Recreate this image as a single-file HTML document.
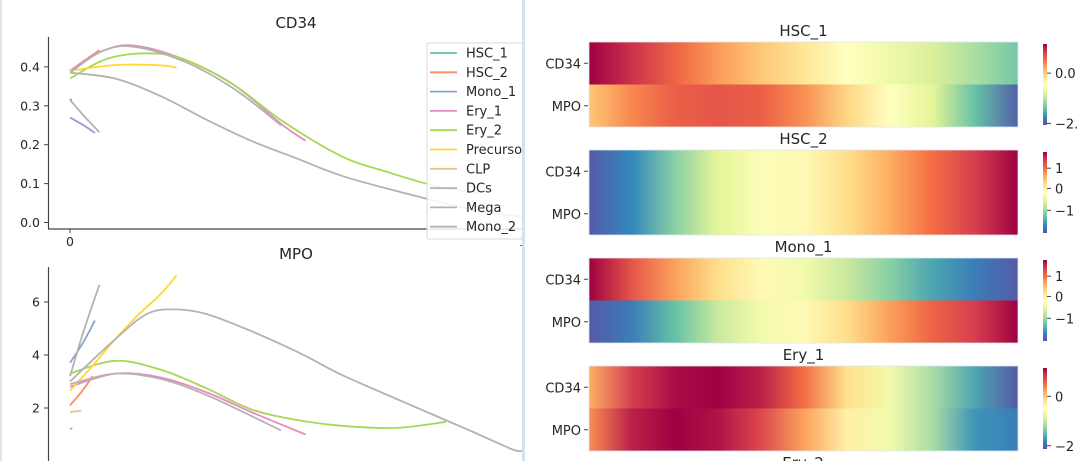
<!DOCTYPE html>
<html><head><meta charset="utf-8">
<style>
html,body{margin:0;padding:0;background:#fff;}
body{width:1080px;height:461px;overflow:hidden;position:relative;font-family:"Liberation Sans","DejaVu Sans",sans-serif;}
svg{position:absolute;left:0;top:0;}
text{font-family:"DejaVu Sans","Liberation Sans",sans-serif;fill:#262626;}
</style></head>
<body>
<svg id="chart" width="1080" height="461" viewBox="0 0 1080 461"></svg>
<script>
// ---------- data ----------
const seriesNames = ["HSC_1","HSC_2","Mono_1","Ery_1","Ery_2","Precursor","CLP","DCs","Mega","Mono_2"];
const seriesColors = ["#66c2a5","#fc8d62","#8da0cb","#e78ac3","#a6d854","#ffd92f","#e5c494","#b3b3b3","#b3b3b3","#b3b3b3"];
// CD34 [t, value] points
const cd34HSC_1 = [[0,0.318],[0.004,0.314]];
const cd34HSC_2 = [[0,0.39],[0.03,0.415],[0.065,0.443]];
const cd34Mono_1 = [[0,0.27],[0.03,0.25],[0.055,0.23]];
const cd34Ery_1 = [[0,0.39],[0.07,0.44],[0.14,0.455],[0.25,0.42],[0.36,0.355],[0.47,0.25],[0.52,0.21]];
const cd34Ery_2 = [[0,0.37],[0.08,0.42],[0.17,0.435],[0.25,0.42],[0.36,0.355],[0.47,0.26],[0.6,0.17],[0.7,0.13],[0.8,0.096],[0.9,0.075]];
const cd34Precursor = [[0,0.39],[0.1,0.405],[0.2,0.404],[0.235,0.398]];
const cd34CLP = [];
const cd34DCs = [[0,0.315],[0.03,0.275],[0.065,0.232]];
const cd34Mega = [[0,0.385],[0.07,0.44],[0.14,0.452],[0.25,0.415],[0.36,0.345],[0.466,0.25]];
const cd34Mono_2 = [[0,0.385],[0.1,0.37],[0.2,0.325],[0.3,0.265],[0.4,0.21],[0.5,0.165],[0.6,0.12],[0.74,0.075],[0.9,0.03],[1,0.015]];
// MPO [t, value] points
const mpoHSC_1 = [[0,1.22],[0.005,1.22]];
const mpoHSC_2 = [[0,2.1],[0.025,2.6],[0.05,3.2]];
const mpoMono_1 = [[0,3.7],[0.03,4.5],[0.055,5.3]];
const mpoEry_1 = [[0,2.8],[0.1,3.3],[0.2,3.15],[0.3,2.6],[0.4,1.85],[0.47,1.35],[0.52,1.0]];
const mpoEry_2 = [[0,3.3],[0.1,3.78],[0.2,3.45],[0.3,2.75],[0.4,1.95],[0.5,1.55],[0.6,1.33],[0.72,1.25],[0.83,1.48]];
const mpoPrecursor = [[0,2.65],[0.05,3.6],[0.1,4.6],[0.15,5.5],[0.2,6.3],[0.235,7.0]];
const mpoCLP = [[0,1.85],[0.025,1.9]];
const mpoDCs = [[0,3.2],[0.03,4.9],[0.065,6.65]];
const mpoMega = [[0,2.9],[0.1,3.3],[0.2,3.1],[0.3,2.5],[0.4,1.7],[0.466,1.15]];
const mpoMono_2 = [[0,3.0],[0.1,4.6],[0.17,5.55],[0.23,5.72],[0.3,5.55],[0.4,4.9],[0.51,4.05],[0.6,3.25],[0.74,2.2],[0.88,1.17],[0.975,0.45],[1,0.38]];
const cd34Ticks = [0.0,0.1,0.2,0.3,0.4];
const mpoTicks = [2,4,6];
// heatmap rows (normalized 0..1 along pseudotime)
const heatLineages = ["HSC_1","HSC_2","Mono_1","Ery_1"];
const hsc1CD34 = [1,0.92,0.82,0.73,0.65,0.58,0.5,0.44,0.38,0.3,0.22];
const hsc1MPO = [0.65,0.76,0.83,0.85,0.83,0.75,0.62,0.5,0.4,0.2,0.03];
const hsc2CD34 = [0.02,0.1,0.25,0.4,0.48,0.52,0.6,0.7,0.8,0.9,1];
const hsc2MPO = [0.02,0.1,0.25,0.4,0.48,0.52,0.6,0.7,0.8,0.9,1];
const mono1CD34 = [1,0.85,0.72,0.6,0.52,0.45,0.35,0.25,0.15,0.08,0.02];
const mono1MPO = [0.02,0.08,0.2,0.35,0.45,0.52,0.6,0.72,0.82,0.9,1];
const ery1CD34 = [0.7,0.9,0.98,1,0.95,0.8,0.6,0.45,0.3,0.15,0.02];
const ery1MPO = [0.75,0.95,1,0.97,0.88,0.72,0.55,0.45,0.3,0.12,0.08];
const cbLabels = [["0.0","\u22122."],["1","0","\u22121"],["1","0","\u22121"],["0","\u22122"]];
const cbPos = [[0.64,0.02],[0.8,0.55,0.28],[0.8,0.55,0.28],[0.65,0.04]];

// ---------- helpers ----------
const NS="http://www.w3.org/2000/svg";
const svg=document.getElementById('chart');
function mk(tag,attrs,parent){const e=document.createElementNS(NS,tag);for(const k in attrs)e.setAttribute(k,attrs[k]);(parent||svg).appendChild(e);return e;}
const spectral=["#5e4fa2","#3288bd","#66c2a5","#abdda4","#e6f598","#ffffbf","#fee08b","#fdae61","#f46d43","#d53e4f","#9e0142"];
function hex(c){return [parseInt(c.slice(1,3),16),parseInt(c.slice(3,5),16),parseInt(c.slice(5,7),16)];}
function cmap(v){v=Math.max(0,Math.min(1,v));const p=v*10,i=Math.min(9,Math.floor(p)),f=p-i;const a=hex(spectral[i]),b=hex(spectral[i+1]);return "rgb("+a.map((x,j)=>Math.round(x+(b[j]-x)*f)).join(",")+")";}
function smoothPath(pts){if(pts.length<2)return "";let d="M"+pts[0][0].toFixed(1)+","+pts[0][1].toFixed(1);
 for(let i=0;i<pts.length-1;i++){const p0=pts[i-1]||pts[i],p1=pts[i],p2=pts[i+1],p3=pts[i+2]||p2;
 const c1=[p1[0]+(p2[0]-p0[0])/6,p1[1]+(p2[1]-p0[1])/6],c2=[p2[0]-(p3[0]-p1[0])/6,p2[1]-(p3[1]-p1[1])/6];
 d+=" C"+c1[0].toFixed(1)+","+c1[1].toFixed(1)+" "+c2[0].toFixed(1)+","+c2[1].toFixed(1)+" "+p2[0].toFixed(1)+","+p2[1].toFixed(1);}return d;}

const ledge=mk('rect',{x:0,y:0,width:2,height:461,fill:'#e4e4e4'});



// ---------- line panels ----------
const xScale=t=>70+t*453;
function panel(name,top,bottom,yMin,y0px,ypx,ticks,fmt,data,title,titleY,x0label){
 const g=mk('g',{});
 
 
 const yScale=v=>y0px-(v-yMin)*ypx;
 const t=mk('text',{x:296,y:titleY,'font-size':15,'text-anchor':'middle'},g);t.textContent=title;
 
 
 mk('line',{x1:48.5,y1:top,x2:48.5,y2:bottom,stroke:'#444','stroke-width':1.2},g);
 if(x0label){mk('line',{x1:48,y1:bottom,x2:525,y2:bottom,stroke:'#444','stroke-width':1.2},g);}
 ticks.forEach(v=>{const y=yScale(v);mk('line',{x1:44,y1:y,x2:48,y2:y,stroke:'#444'},g);
  const tl=mk('text',{x:40,y:y+4.5,'font-size':12.5,'text-anchor':'end'},g);tl.textContent=fmt(v);
  
  });
 mk('line',{x1:70,y1:bottom,x2:70,y2:bottom+4,stroke:'#444'},g);
 if(x0label){const a=mk('text',{x:70,y:bottom+17,'font-size':12.5,'text-anchor':'middle'},g);a.textContent='0';
  const b=mk('text',{x:523,y:bottom+17,'font-size':12.5,'text-anchor':'middle'},g);b.textContent='1';}
 data.forEach((pts,i)=>{if(!pts.length)return;
  const p=mk('path',{d:smoothPath(pts.map(q=>[xScale(q[0]),yScale(q[1])])),fill:'none',stroke:seriesColors[i],'stroke-width':1.8},g);
  
  });
 return g;}
panel('cd34',37,229,0,222.5,389,cd34Ticks,v=>v.toFixed(1),
 [cd34HSC_1,cd34HSC_2,cd34Mono_1,cd34Ery_1,cd34Ery_2,cd34Precursor,cd34CLP,cd34DCs,cd34Mega,cd34Mono_2],'CD34',28,true);
panel('mpo',267,461,0,461,26.5,mpoTicks,v=>String(v),
 [mpoHSC_1,mpoHSC_2,mpoMono_1,mpoEry_1,mpoEry_2,mpoPrecursor,mpoCLP,mpoDCs,mpoMega,mpoMono_2],'MPO',259,false);

// legend
const lg=mk('g',{});


mk('rect',{x:427,y:43,width:110,height:196,fill:'#fff','fill-opacity':0.85,stroke:'#d9d9d9',rx:2},lg);
seriesNames.forEach((n,i)=>{const y=53+i*19.3;
 const e=mk('g',{},lg);
 
 
 mk('line',{x1:430,y1:y,x2:457,y2:y,stroke:seriesColors[i],'stroke-width':1.8},e);
 const t=mk('text',{x:466,y:y+4.5,'font-size':13},e);t.textContent=n;});
// divider + right panel background
const div=mk('rect',{x:522,y:0,width:3,height:461,fill:'#cfe2f6'});


mk('rect',{x:525,y:0,width:555,height:461,fill:'#fff'});

// ---------- heatmaps ----------
const heatRows=[[hsc1CD34,hsc1MPO],[hsc2CD34,hsc2MPO],[mono1CD34,mono1MPO],[ery1CD34,ery1MPO]];
const heatTops=[42,150,258,366];
const defs=mk('defs',{});
heatRows.forEach((rows,k)=>{
 const g=mk('g',{});
 
 
 const top=heatTops[k],h=85,x0=589,w=429;
 const tt=mk('text',{x:x0+w/2,y:top-6,'font-size':15,'text-anchor':'middle'},g);tt.textContent=heatLineages[k];
 rows.forEach((vals,r)=>{
  const id='gr'+k+'_'+r;const lgd=mk('linearGradient',{id:id,x1:0,y1:0,x2:1,y2:0},defs);
  vals.forEach((v,j)=>mk('stop',{offset:(j/(vals.length-1)).toFixed(3),'stop-color':cmap(v)},lgd));
  const rc=mk('rect',{x:x0,y:top+r*h/2,width:w,height:h/2,fill:'url(#'+id+')'},g);
  
  
  const yc=top+r*h/2+h/4;
  mk('line',{x1:584,y1:yc,x2:588,y2:yc,stroke:'#444'},g);
  const lab=mk('text',{x:581,y:yc+5,'font-size':13,'text-anchor':'end'},g);lab.textContent=r?'MPO':'CD34';
 });
 mk('rect',{x:x0,y:top,width:w,height:h,fill:'none',stroke:'#dde6f3','stroke-width':0.8},g);
 const cid='cb'+k;const cg=mk('linearGradient',{id:cid,x1:0,y1:1,x2:0,y2:0},defs);
 for(let j=0;j<=10;j++)mk('stop',{offset:j/10,'stop-color':cmap(j/10)},cg);
 const cbTop=top+2,cbH=81;
 const cb=mk('rect',{x:1043,y:cbTop,width:4,height:cbH,fill:'url(#'+cid+')'},g);
 
 
 cbLabels[k].forEach((s,j)=>{const y=cbTop+cbH*(1-cbPos[k][j]);
  mk('line',{x1:1047,y1:y,x2:1051,y2:y,stroke:'#444'},g);
  const t=mk('text',{x:1055,y:y+5,'font-size':13},g);t.textContent=s;});
});
const e2=mk('text',{x:803,y:468,'font-size':15,'text-anchor':'middle'});e2.textContent='Ery_2';


</script>
</body></html>
